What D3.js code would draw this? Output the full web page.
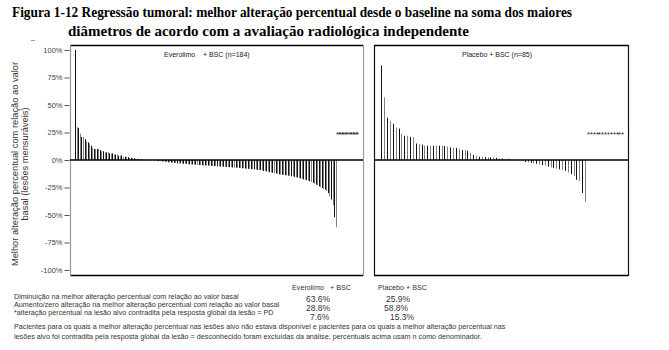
<!DOCTYPE html>
<html>
<head>
<meta charset="utf-8">
<script src="https://cdn.jsdelivr.net/npm/d3@7"></script>
<style>
  html, body { margin: 0; padding: 0; background: #fff; }
  svg { display: block; }
</style>
</head>
<body>
<svg id="chart" width="669" height="350"></svg>
<script>
// Best percent change from baseline per patient, sorted (positives, zeros, negatives)
const everolimoChanges = [
  100, 30, 29, 24, 21, 21, 19, 17, 16, 15, 13, 11, 10, 10, 10, 10, 9, 8, 8, 7,
  7, 7, 6, 6, 6, 5, 5, 5, 4, 4, 4, 3, 3, 3, 2.5, 2, 2, 1.5, 1.5, 1.2,
  1, 1, 0.8, 0.5,
  0, 0, 0, 0, 0, 0, 0, 0, 0,
  -0.8, -1, -1, -1.2, -1.5, -1.5, -1.8, -2, -2, -2.2, -2.5, -2.5,
  -2.8, -3, -3, -3, -3.2, -3.5, -3.5, -3.5, -3.8, -4, -4, -4,
  -4.2, -4.3, -4.5, -4.5, -4.6, -4.8, -5, -5, -5, -5.1, -5.2, -5.3, -5.5, -5.5, -5.5, -5.6, -5.8, -6, -6, -6, -6.2, -6.3,
  -6.5, -6.5, -6.6, -6.8, -7, -7, -7, -7.2, -7.3, -7.5, -7.5, -7.7, -8, -8, -8, -8.2, -8.4, -8.5, -8.7, -9, -9, -9.2,
  -9.5, -10, -10, -10.3, -10.6, -11,
  -11.3, -11.6, -12, -12.2, -12.5, -13,
  -13.2, -13.4, -13.6, -13.8, -14, -14.2, -14.5,
  -14.8, -15, -15.3, -15.6, -16, -16.3,
  -16.8, -17.2, -17.6, -18, -18.4, -18.8, -19.3,
  -20, -20.8, -21.6, -22.4, -23,
  -24, -24.8, -25.5, -26.2, -27,
  -28, -30, -33, -36, -41, -52, -61
];
const everolimoPD = 14;   // patients whose change was contradicted by PD (*)

const placeboChanges = [
  86, 57, 38.5, 35.5, 33, 29.5, 28.5, 24, 22, 22, 21, 20.6, 15, 14.5, 14, 13, 13, 13, 13, 13,
  13, 13, 12.7, 12.2, 11.5, 11, 11, 10.5, 9, 9, 8.5, 6.5, 4.5, 3.5, 3, 3, 2.6, 2.5, 2.4, 2.3,
  2, 1.6, 1.4, 1.2, 1, 0.8,
  0, 0, 0, 0,
  -1.8, -2.2, -2.6, -3, -3.5, -4, -4.5, -5.2, -6, -6.7, -7.2, -7.8, -8.4, -9, -9.8, -11.5,
  -12.8, -14.5, -18, -19, -30, -38
];
const placeboPD = 13;

const panelTitles = [["Everolimo", "+ BSC (n=184)"], ["Placebo + BSC (n=85)"]];
const yTicks = [100, 75, 50, 25, 0, -25, -50, -75, -100];
const pdLevel = 25;

const summaryHeader = ["Everolimo", "+ BSC", "Placebo + BSC"];
const summaryRows = [
  "Diminuição na melhor alteração percentual com relação ao valor basal",
  "Aumento/zero alteração na melhor alteração percentual com relação ao valor basal",
  "*alteração percentual na lesão alvo contradita pela resposta global da lesão = PD"
];
const everolimoPct = ["63.6%", "28.8%", "7.6%"];
const placeboPct = ["25.9%", "58.8%", "15.3%"];
const footnote = [
  "Pacientes para os quais a melhor alteração percentual nas lesões alvo não estava disponível e pacientes para os quais a melhor alteração percentual nas",
  "lesões alvo foi contradita pela resposta global da lesão = desconhecido foram excluídas da análise, percentuais acima usam n como denominador."
];

const svg = d3.select("#chart");
const sans = "Liberation Sans, Arial, sans-serif";

// Title
const title = svg.append("g")
  .attr("font-family", "Liberation Serif, Times New Roman, serif")
  .attr("font-weight", "bold").attr("font-size", 14).attr("fill", "#000");
title.append("text").attr("x", 12).attr("y", 17)
  .attr("textLength", 560).attr("lengthAdjust", "spacingAndGlyphs")
  .text("Figura 1-12 Regressão tumoral: melhor alteração percentual desde o baseline na soma dos maiores");
title.append("text").attr("x", 68).attr("y", 36)
  .attr("textLength", 401).attr("lengthAdjust", "spacingAndGlyphs")
  .text("diâmetros de acordo com a avaliação radiológica independente");

svg.append("line").attr("x1", 31).attr("x2", 35).attr("y1", 40.5).attr("y2", 40.5)
  .attr("stroke", "#999").attr("stroke-width", 1);

// Shared vertical scale
const frameTop = 45, frameBottom = 275;
const y = d3.scaleLinear().domain([-100, 100]).range([270, 50]);

function drawPanel(cfg) {
  const g = svg.append("g");
  const n = cfg.values.length + cfg.pd;
  const x = d3.scaleBand().domain(d3.range(n)).range(cfg.band).padding(0);
  const cx = i => Math.round(x(i) + x.bandwidth() / 2);

  // frame
  g.append("line").attr("x1", cfg.x0).attr("x2", cfg.x1).attr("y1", frameTop + 0.5).attr("y2", frameTop + 0.5)
    .attr("stroke", "#000").attr("stroke-width", 1.3);
  g.append("line").attr("x1", cfg.x0).attr("x2", cfg.x1).attr("y1", frameBottom + 0.5).attr("y2", frameBottom + 0.5)
    .attr("stroke", "#000").attr("stroke-width", 1.3);
  [cfg.x0, cfg.x1].forEach(xx => g.append("line")
    .attr("x1", xx + 0.5).attr("x2", xx + 0.5).attr("y1", frameTop).attr("y2", frameBottom + 1)
    .attr("stroke", cfg.sideColor).attr("stroke-width", 1.2));

  // bars
  g.append("g").selectAll("rect")
    .data(cfg.values.map((v, i) => ({ v, i })).filter(d => d.v !== 0))
    .join("rect")
    .attr("x", d => cx(d.i))
    .attr("width", 1)
    .attr("y", d => Math.min(y(d.v), y(0)))
    .attr("height", d => Math.abs(y(d.v) - y(0)))
    .attr("fill", d => d.i % 2 === 0 ? "#111" : "#808080");

  // zero line
  g.append("line").attr("x1", cfg.x0).attr("x2", cfg.x1).attr("y1", y(0)).attr("y2", y(0))
    .attr("stroke", "#000").attr("stroke-width", 1.4);

  // PD markers
  g.append("g").selectAll("text")
    .data(d3.range(cfg.values.length, n))
    .join("text")
    .attr("x", i => cx(i) + 0.5)
    .attr("y", y(pdLevel) + 4)
    .attr("text-anchor", "middle")
    .attr("font-family", sans).attr("font-size", 7.5).attr("fill", "#222")
    .text("*");

  // panel heading
  const t = g.append("text").attr("y", 57).attr("font-family", sans)
    .attr("font-size", 7).attr("fill", "#222");
  cfg.heading.forEach((s, k) => t.append("tspan").attr("x", cfg.headX[k]).text(s));
  return g;
}

drawPanel({ values: everolimoChanges, pd: everolimoPD, band: [74.5, 358], x0: 70, x1: 363,
  sideColor: "#9a9a9a", heading: panelTitles[0], headX: [164, 203] });
drawPanel({ values: placeboChanges, pd: placeboPD, band: [379.9, 623.8], x0: 374, x1: 628,
  sideColor: "#111", heading: panelTitles[1], headX: [462] });

// y axis
const yAxis = svg.append("g").attr("transform", "translate(69.5,0)")
  .call(d3.axisLeft(y).tickValues(yTicks).tickFormat(d => d + "%").tickSize(5).tickPadding(2));
yAxis.select(".domain").remove();
yAxis.selectAll(".tick line").attr("stroke", "#555");
yAxis.selectAll(".tick text").attr("font-family", sans).attr("font-size", 7.5).attr("fill", "#444");

// y axis title
const yt = svg.append("text").attr("transform", "translate(0,164) rotate(-90)")
  .attr("text-anchor", "middle").attr("font-family", sans).attr("font-size", 9.3).attr("fill", "#333");
yt.append("tspan").attr("x", 0).attr("y", 18).text("Melhor alteração percentual com relação ao valor");
yt.append("tspan").attr("x", 0).attr("y", 28).text("basal (lesões mensuráveis)");

// summary table
const tbl = svg.append("g").attr("font-family", sans).attr("font-size", 7.2).attr("fill", "#333");
tbl.append("text").attr("x", 292).attr("y", 290).text(summaryHeader[0]);
tbl.append("text").attr("x", 330).attr("y", 290).text(summaryHeader[1]);
tbl.append("text").attr("x", 378).attr("y", 290).text(summaryHeader[2]);
const rowY = [299, 307, 315];
summaryRows.forEach((s, i) => tbl.append("text").attr("x", 14).attr("y", rowY[i]).text(s));
const pctY = [302, 311, 320];
const evX = [306, 306, 310], plX = [386, 384, 390];
everolimoPct.forEach((s, i) => tbl.append("text").attr("x", evX[i]).attr("y", pctY[i]).attr("font-size", 8.5).text(s));
placeboPct.forEach((s, i) => tbl.append("text").attr("x", plX[i]).attr("y", pctY[i]).attr("font-size", 8.5).text(s));
footnote.forEach((s, i) => tbl.append("text").attr("x", 14).attr("y", 329 + i * 10).text(s));
</script>
</body>
</html>
